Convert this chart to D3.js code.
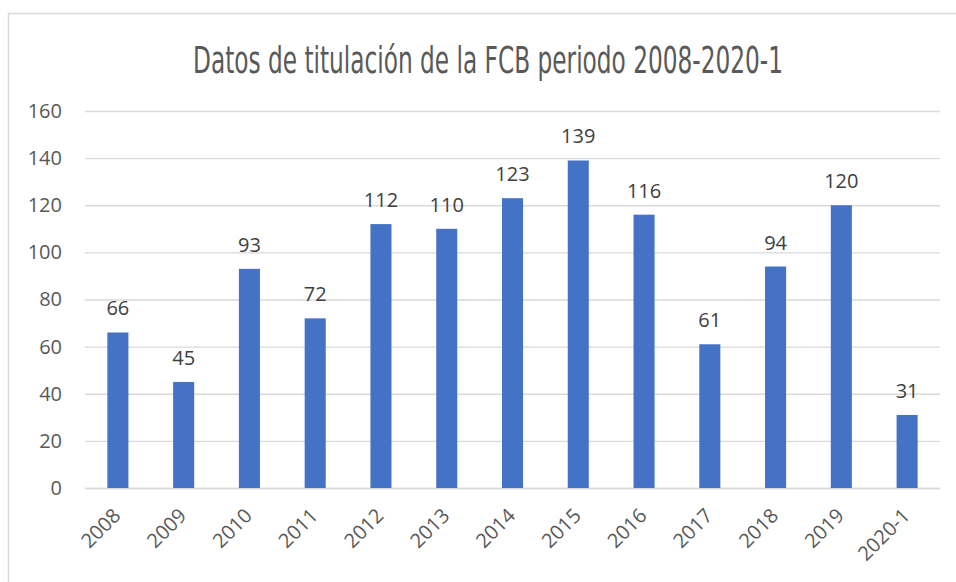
<!DOCTYPE html>
<html>
<head>
<meta charset="utf-8">
<script src="https://cdn.jsdelivr.net/npm/d3@7"></script>
<style>
  body { margin: 0; background: #fff; }
  svg { display: block; }
</style>
</head>
<body>
<div class="chart"></div>
<script>
const width = 956;
const height = 582;
const margin = {top: 111, right: 16, bottom: 94, left: 85};
const innerWidth = width - margin.left - margin.right;
const innerHeight = height - margin.top - margin.bottom;

const titleText = 'Datos de titulación de la FCB periodo 2008-2020-1';
const years = ['2008', '2009', '2010', '2011', '2012', '2013', '2014', '2015', '2016', '2017', '2018', '2019', '2020-1'];
const graduates = [66, 45, 93, 72, 112, 110, 123, 139, 116, 61, 94, 120, 31];
const yTicks = [0, 20, 40, 60, 80, 100, 120, 140, 160];

const data = years.map((y, i) => ({year: y, value: graduates[i]}));

const svg = d3.select('.chart')
  .append('svg')
  .attr('width', width)
  .attr('height', height);

// chart frame: only the top and left edges are inside the screenshot
svg.append('path')
  .attr('d', `M8.5,${height} V13.5 H${width}`)
  .attr('fill', 'none')
  .attr('stroke', '#d9d9d9')
  .attr('stroke-width', 1.5);

svg.append('text')
  .attr('x', 488)
  .attr('y', 73)
  .attr('text-anchor', 'middle')
  .attr('textLength', 590)
  .attr('lengthAdjust', 'spacingAndGlyphs')
  .style('font-family', '"Liberation Sans Narrow", "DejaVu Sans Condensed", sans-serif')
  .style('font-size', '38px')
  .style('fill', '#595959')
  .text(titleText);

const g = svg.append('g')
  .attr('transform', `translate(${margin.left},${margin.top})`);

const xScale = d3.scaleBand()
  .domain(years)
  .range([0, innerWidth])
  .paddingInner(0.68)
  .paddingOuter(0.34);

const yScale = d3.scaleLinear()
  .domain([0, 160])
  .range([innerHeight, 0]);

const yAxis = d3.axisLeft(yScale)
  .tickValues(yTicks)
  .tickSize(-innerWidth)
  .tickPadding(23);

g.append('g')
  .attr('class', 'y-axis')
  .call(yAxis)
  .call(s => s.select('.domain').remove())
  .call(s => s.selectAll('line').attr('stroke', '#d9d9d9').attr('stroke-width', 1.3))
  .call(s => s.selectAll('text')
    .style('font-family', '"Open Sans", sans-serif')
    .style('font-size', '20px')
    .style('fill', '#595959'));

const xAxis = d3.axisBottom(xScale).tickSize(0).tickPadding(0);

g.append('g')
  .attr('class', 'x-axis')
  .attr('transform', `translate(0,${innerHeight})`)
  .call(xAxis)
  .call(s => s.select('.domain').attr('stroke', '#d9d9d9').attr('stroke-width', 1.3))
  .call(s => s.selectAll('text')
    .attr('text-anchor', 'end')
    .attr('dy', null)
    .attr('transform', 'translate(4,29) rotate(-45)')
    .style('font-family', '"Open Sans", sans-serif')
    .style('font-size', '20px')
    .style('fill', '#595959'));

g.selectAll('rect.bar')
  .data(data)
  .enter().append('rect')
  .attr('class', 'bar')
  .attr('x', d => xScale(d.year))
  .attr('y', d => yScale(d.value))
  .attr('width', xScale.bandwidth())
  .attr('height', d => innerHeight - yScale(d.value))
  .attr('fill', '#4472c4');

g.selectAll('text.label')
  .data(data)
  .enter().append('text')
  .attr('class', 'label')
  .attr('x', d => xScale(d.year) + xScale.bandwidth() / 2)
  .attr('y', d => yScale(d.value) - 17)
  .attr('text-anchor', 'middle')
  .style('font-family', '"Open Sans", sans-serif')
  .style('font-size', '20px')
  .style('fill', '#404040')
  .text(d => d.value);
</script>
</body>
</html>
